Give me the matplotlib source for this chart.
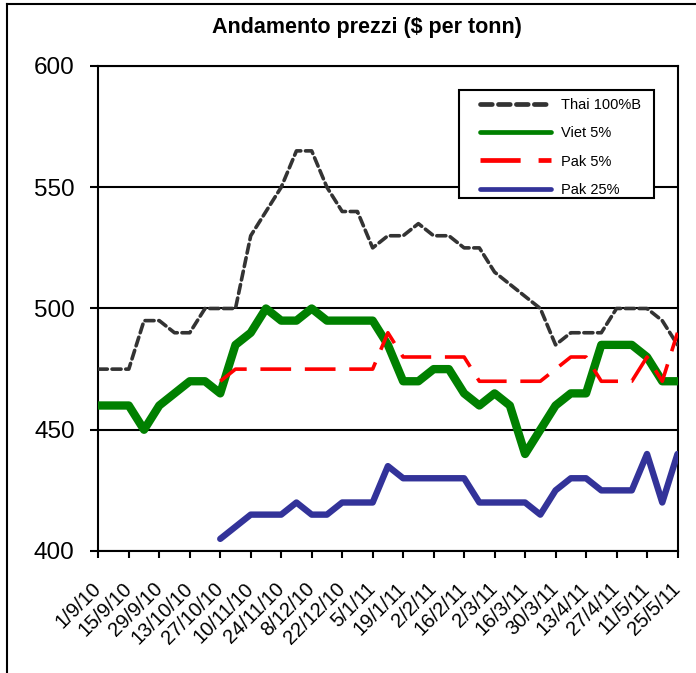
import numpy as np
import matplotlib
matplotlib.use("Agg")
import matplotlib.pyplot as plt
from matplotlib.lines import Line2D
from matplotlib.patches import Rectangle

plt.rcParams['font.family'] = ['Liberation Sans', 'DejaVu Sans']

# weekly observations, label every second week
tick_labels = ['1/9/10', '15/9/10', '29/9/10', '13/10/10', '27/10/10', '10/11/10',
               '24/11/10', '8/12/10', '22/12/10', '5/1/11', '19/1/11', '2/2/11',
               '16/2/11', '2/3/11', '16/3/11', '30/3/11', '13/4/11', '27/4/11',
               '11/5/11', '25/5/11']

nan = np.nan
thai_100b = [475, 475, 475, 495, 495, 490, 490, 500, 500, 500,
             530, 540, 550, 565, 565, 550, 540, 540, 525, 530,
             530, 535, 530, 530, 525, 525, 515, 510, 505, 500,
             485, 490, 490, 490, 500, 500, 500, 495, 485]
viet_5 = [460, 460, 460, 450, 460, 465, 470, 470, 465, 485,
          490, 500, 495, 495, 500, 495, 495, 495, 495, 485,
          470, 470, 475, 475, 465, 460, 465, 460, 440, 450,
          460, 465, 465, 485, 485, 485, 480, 470, 470]
pak_5 = [nan, nan, nan, nan, nan, nan, nan, nan, 470, 475,
         475, 475, 475, 475, 475, 475, 475, 475, 475, 490,
         480, 480, 480, 480, 480, 470, 470, 470, 470, 470,
         475, 480, 480, 470, 470, 470, 480, 470, 490]
pak_25 = [nan, nan, nan, nan, nan, nan, nan, nan, 405, 410,
          415, 415, 415, 420, 415, 415, 420, 420, 420, 435,
          430, 430, 430, 430, 430, 420, 420, 420, 420, 415,
          425, 430, 430, 425, 425, 425, 440, 420, 440]

x = np.arange(len(thai_100b))

W, H = 696, 673
fig = plt.figure(figsize=(W / 100, H / 100), dpi=100)
ax = fig.add_axes([98.3 / W, 1 - 551 / H, (677.5 - 98.3) / W, (551 - 66) / H])

ax.plot(x, thai_100b, color='#333333', lw=2.6, dashes=(2.5, 1.3),
        dash_capstyle='round', label='Thai 100%B', zorder=3)
ax.plot(x, viet_5, color='#008000', lw=6, solid_joinstyle='round',
        solid_capstyle='round', label='Viet 5%', zorder=4)
ax.plot(x, pak_5, color='#FF0000', lw=2.6, dashes=(8.5, 3.8),
        label='Pak 5%', zorder=5)
ax.plot(x, pak_25, color='#333399', lw=4.6, solid_joinstyle='round',
        solid_capstyle='round', label='Pak 25%', zorder=4)

ax.set_xlim(0, len(x) - 1)
ax.set_ylim(400, 600)
ax.set_yticks([400, 450, 500, 550, 600])
ax.set_xticks(x[::2])
ax.set_xticklabels(tick_labels, rotation=45, ha='right', va='center',
                   rotation_mode='anchor', fontsize=14.5)
ax.tick_params(axis='x', direction='out', length=5, width=1.5, pad=20)
ax.tick_params(axis='y', direction='out', length=6, width=1.5, pad=11, labelsize=17.5)
ax.grid(axis='y', color='black', lw=1.5)
ax.set_axisbelow(True)
for s in ax.spines.values():
    s.set_color('black')
    s.set_linewidth(1.5)

fig.text(367 / W, 1 - 27 / H, 'Andamento prezzi ($ per tonn)',
         ha='center', va='center', fontsize=15.5, fontweight='bold')

# legend box drawn separately to match the wide inner padding
fig.add_artist(Rectangle((459 / W, 1 - 198 / H), (654 - 459) / W, (198 - 90) / H,
                         transform=fig.transFigure, facecolor='white',
                         edgecolor='black', lw=1.5, zorder=10))
leg = fig.legend(loc='upper left', bbox_to_anchor=(480 / W, 1 - 98 / H),
                 fontsize=10.5, frameon=False, borderaxespad=0, borderpad=0,
                 handlelength=4.9, handletextpad=0.65, labelspacing=0.98)
leg.set_zorder(11)
for h in leg.get_lines():
    h.set_linewidth(3.4)
    h.set_solid_capstyle('round')

# outer chart frame (only left and top visible)
fig.add_artist(Line2D([7 / W, 7 / W], [0, 1 - 4 / H], color='black', lw=1.5))
fig.add_artist(Line2D([7 / W, 1], [1 - 4 / H, 1 - 4 / H], color='black', lw=1.5))

fig.savefig('out.png', dpi=100)
